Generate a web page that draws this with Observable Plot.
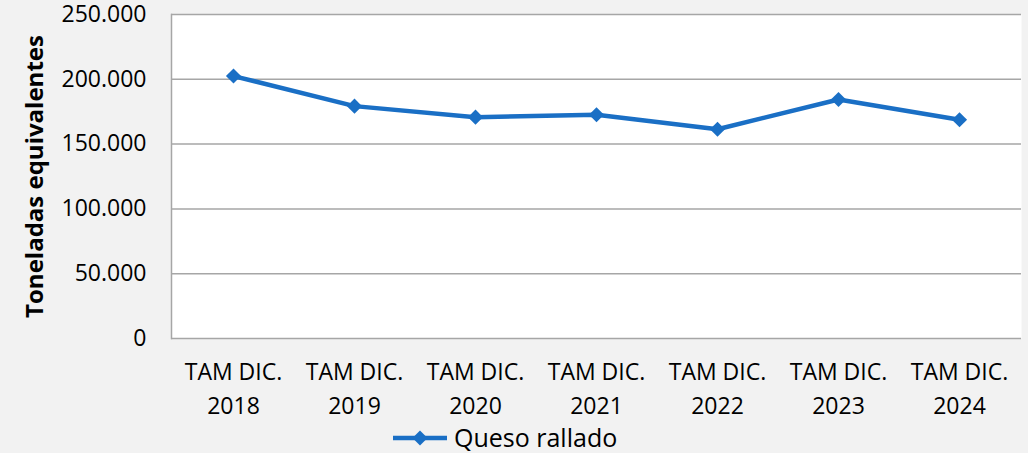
<!DOCTYPE html>
<html>
<head>
<meta charset="utf-8">
<script src="https://cdn.jsdelivr.net/npm/d3@7"></script>
<script src="https://cdn.jsdelivr.net/npm/@observablehq/plot@0.6"></script>
<style>
  html, body { margin: 0; padding: 0; background: #f2f2f2; }
  #wrap { position: relative; width: 1028px; height: 453px; font-family: "Open Sans", sans-serif; }
  #chart svg { overflow: visible; }
  #legend { position: absolute; left: 393px; top: 421px; height: 33px; display: flex; align-items: center; font-size: 25px; color: #000; line-height: 1; }
  #legend svg { margin-right: 5px; }
</style>
</head>
<body>
<div id="wrap"><div id="chart"></div><div id="legend"></div></div>
<script>
const categories = ["TAM DIC. 2018", "TAM DIC. 2019", "TAM DIC. 2020", "TAM DIC. 2021", "TAM DIC. 2022", "TAM DIC. 2023", "TAM DIC. 2024"];
const tickLabels = ["TAM DIC.\n2018", "TAM DIC.\n2019", "TAM DIC.\n2020", "TAM DIC.\n2021", "TAM DIC.\n2022", "TAM DIC.\n2023", "TAM DIC.\n2024"];
const quesoRallado = [202500, 179300, 170800, 172700, 161500, 184400, 168800];
const yTicks = [0, 50000, 100000, 150000, 200000, 250000];
const seriesName = "Queso rallado";
const yTitle = "Toneladas equivalentes";

const color = "#1a6fc5";
const gridColor = "#a6a6a6";
const data = categories.map((c, i) => ({cat: c, value: quesoRallado[i]}));
const labelOf = new Map(categories.map((c, i) => [c, tickLabels[i]]));
const fmtY = d => d === 0 ? "0" : d3.format(",")(d).replace(/,/g, ".");

const chart = Plot.plot({
  width: 1028,
  height: 420,
  marginLeft: 171,
  marginRight: 7,
  marginTop: 14,
  marginBottom: 82,
  style: {background: "transparent", fontFamily: "Open Sans, sans-serif", fontSize: "23px", color: "#000"},
  x: {type: "point", domain: categories, padding: 0.5},
  y: {domain: [0, 250000]},
  marks: [
    Plot.frame({fill: "white", stroke: null}),
    Plot.gridY(yTicks.filter(d => d > 0), {stroke: gridColor, strokeOpacity: 1, strokeWidth: 1.5}),
    Plot.ruleY([0], {stroke: gridColor, strokeWidth: 1.5}),
    Plot.frame({anchor: "left", stroke: gridColor, strokeWidth: 1.5}),
    Plot.axisY(yTicks, {tickSize: 0, tickPadding: 25, tickFormat: fmtY, label: null, fontSize: 23}),
    Plot.axisX({tickSize: 0, tickPadding: 17, tickFormat: d => labelOf.get(d), label: null, lineHeight: 1.5, fontSize: 23}),
    Plot.text([yTitle], {frameAnchor: "left", textAnchor: "middle", rotate: -90, dx: -136, fontWeight: "bold", fontSize: 24, fill: "#000"}),
    Plot.line(data, {x: "cat", y: "value", stroke: color, strokeWidth: 4.5}),
    Plot.dot(data, {x: "cat", y: "value", symbol: "diamond2", r: 6.8, fill: color, stroke: null})
  ]
});
document.getElementById("chart").appendChild(chart);

const legend = document.getElementById("legend");
legend.innerHTML = `<svg width="56" height="20" viewBox="0 0 56 20"><line x1="0" y1="10" x2="54" y2="10" stroke="${color}" stroke-width="4.5"/><path d="M27,2.5 L34.5,10 L27,17.5 L19.5,10 Z" fill="${color}"/></svg><span>${seriesName}</span>`;
</script>
</body>
</html>
